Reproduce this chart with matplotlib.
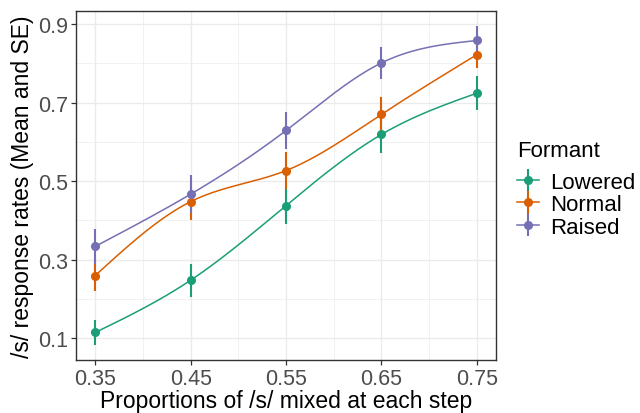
import numpy as np
import matplotlib
matplotlib.use('Agg')
import matplotlib.pyplot as plt
from matplotlib.ticker import FixedLocator

plt.rcParams['font.family'] = ['Liberation Sans', 'DejaVu Sans']

steps = [0.35, 0.45, 0.55, 0.65, 0.75]
lowered = [0.115, 0.248, 0.438, 0.619, 0.724]
lowered_se = [0.031, 0.042, 0.046, 0.048, 0.043]
normal = [0.260, 0.448, 0.527, 0.670, 0.822]
normal_se = [0.040, 0.048, 0.047, 0.045, 0.035]
raised = [0.334, 0.467, 0.629, 0.801, 0.858]
raised_se = [0.045, 0.049, 0.047, 0.040, 0.036]

series = [('Lowered', lowered, lowered_se, '#1B9E77'),
          ('Normal', normal, normal_se, '#D95F02'),
          ('Raised', raised, raised_se, '#7570B3')]


def natural_spline(x, y, n=200):
    x = np.asarray(x, float)
    y = np.asarray(y, float)
    k = len(x)
    h = np.diff(x)
    A = np.zeros((k, k))
    b = np.zeros(k)
    A[0, 0] = 1
    A[-1, -1] = 1
    for i in range(1, k - 1):
        A[i, i - 1] = h[i - 1]
        A[i, i] = 2 * (h[i - 1] + h[i])
        A[i, i + 1] = h[i]
        b[i] = 6 * ((y[i + 1] - y[i]) / h[i] - (y[i] - y[i - 1]) / h[i - 1])
    m = np.linalg.solve(A, b)
    xs = np.linspace(x[0], x[-1], n)
    idx = np.clip(np.searchsorted(x, xs) - 1, 0, k - 2)
    x0, x1 = x[idx], x[idx + 1]
    hh = x1 - x0
    t0, t1 = x1 - xs, xs - x0
    ys = (m[idx] * t0 ** 3 + m[idx + 1] * t1 ** 3) / (6 * hh) \
        + (y[idx] / hh - m[idx] * hh / 6) * t0 \
        + (y[idx + 1] / hh - m[idx + 1] * hh / 6) * t1
    return xs, ys


fig = plt.figure(figsize=(6.4, 4.14), dpi=100)
ax = fig.add_axes([0.119, 0.128, 0.656, 0.843])

handles = []
for name, vals, se, col in series:
    xs, ys = natural_spline(steps, vals)
    ln, = ax.plot(xs, ys, color=col, lw=1.1, zorder=3)
    eb = ax.errorbar(steps, vals, yerr=se, fmt='o', color=col, ms=5.5,
                     elinewidth=1.5, capsize=0, zorder=4)
    handles.append((ln, eb))

ax.set_xlim(0.33, 0.77)
ax.set_ylim(0.045, 0.933)
ax.xaxis.set_major_locator(FixedLocator(steps))
ax.xaxis.set_minor_locator(FixedLocator([0.40, 0.50, 0.60, 0.70]))
ax.yaxis.set_major_locator(FixedLocator([0.1, 0.3, 0.5, 0.7, 0.9]))
ax.yaxis.set_minor_locator(FixedLocator([0.2, 0.4, 0.6, 0.8]))
ax.set_xticklabels(['0.35', '0.45', '0.55', '0.65', '0.75'])
ax.set_yticklabels(['0.1', '0.3', '0.5', '0.7', '0.9'])
ax.grid(which='major', color='#EBEBEB', lw=1.0)
ax.grid(which='minor', color='#EBEBEB', lw=0.5)
ax.set_axisbelow(True)
for s in ax.spines.values():
    s.set_color('#333333')
    s.set_linewidth(1.0)
ax.tick_params(which='major', length=3.5, width=0.9, color='#333333',
               labelsize=15.5, labelcolor='#4D4D4D', pad=2)
ax.tick_params(which='minor', length=0)

ax.set_xlabel('Proportions of /s/ mixed at each step', fontsize=16.5, labelpad=0)
ax.set_ylabel('/s/ response rates (Mean and SE)', fontsize=16.5, labelpad=3)

leg = fig.legend(handles, [s[0] for s in series], title='Formant',
                 loc='upper left', bbox_to_anchor=(0.808, 0.66),
                 frameon=False, fontsize=16, title_fontsize=16,
                 handlelength=1.0, handletextpad=0.5, labelspacing=0.06,
                 borderaxespad=0, borderpad=0)
leg._legend_box.align = 'left'
leg._legend_box.sep = 8

fig.savefig('out.png', dpi=100)
